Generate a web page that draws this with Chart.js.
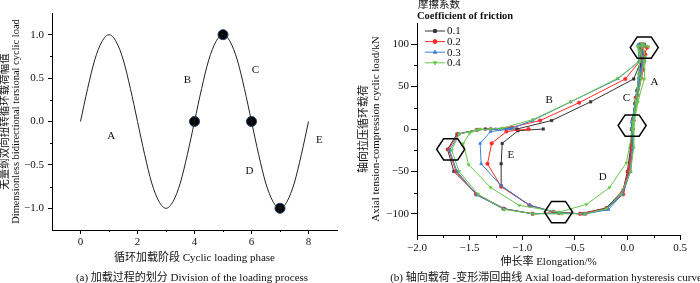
<!DOCTYPE html>
<html>
<head>
<meta charset="utf-8">
<script src="https://cdn.jsdelivr.net/npm/chart.js@4.4.0/dist/chart.umd.min.js"></script>
<style>
body{margin:0;background:#fff;width:700px;height:283px;position:relative;overflow:hidden;
  font-family:"Liberation Serif","Noto Sans CJK SC",serif;color:#111}
#cA{position:absolute;left:0;top:0}
#cB{position:absolute;left:350px;top:0}
.cap{position:absolute;top:270px;font-size:11px;white-space:nowrap;transform:translateX(-50%);line-height:14px}
</style>
</head>
<body>
<canvas id="cA" width="350" height="283"></canvas>
<canvas id="cB" width="350" height="283"></canvas>
<div class="cap" style="left:192px">(a) 加载过程的划分 Division of the loading process</div>
<div class="cap" style="left:546px">(b) 轴向载荷 -变形滞回曲线 Axial load-deformation hysteresis curve</div>
<script>
// ---- panel (a): loading phases ----
const phase = [0,0.25,0.5,0.75,1,1.25,1.5,1.75,2,2.25,2.5,2.75,3,3.25,3.5,3.75,4,
               4.25,4.5,4.75,5,5.25,5.5,5.75,6,6.25,6.5,6.75,7,7.25,7.5,7.75,8];
const load = [0,0.38,0.71,0.92,1,0.92,0.71,0.38,0,-0.38,-0.71,-0.92,-1,-0.92,-0.71,-0.38,0,
              0.38,0.71,0.92,1,0.92,0.71,0.38,0,-0.38,-0.71,-0.92,-1,-0.92,-0.71,-0.38,0];
const dotX = [4,5,6,7];
const dotY = [0,1,0,-1];
const phaseTicks = [0,2,4,6,8];
const phaseMinor = [1,3,5,7];
const ampTicks = [-1,-0.5,0,0.5,1];
const ampMinor = [-0.75,-0.25,0.25,0.75];
const lettersA = ['A','B','C','D','E'];
const lettersAX = [1.08,3.75,6.14,5.93,8.38];
const lettersAY = [-0.17,0.48,0.59,-0.57,-0.21];

// ---- panel (b): hysteresis curves ----
const frictions = ['0.1','0.2','0.3','0.4'];
const elong01 = [0.04,0.07,0.11,0.13,0.11,0.15,0.12,0.14,0.13,0.09,0.05,0.04,0.01,-0.05,-0.2,-0.42,-0.65,-0.9,-1.17,-1.43,-1.65,-1.71,-1.62,-1.43,-1.35,
  -1.05,-0.72,-0.35,0.06,0.13,0.12,0.16,0.13,0.12,0.08,0.05,0.04,0.03,0.0,-0.04,-0.2,-0.45,-0.7,-0.93,-1.2,-1.2,-1.19,-1.04,-0.8];
const load01 = [0,30,60,80,97,99,100,92,80,45,10,-20,-50,-77,-94,-100,-99,-100,-94,-77,-50,-24,-6,-1,0,
  0,10,32,59,80,98,100,90,70,37,12,0,-22,-50,-72,-93,-100,-98,-90,-67,-41,-17,-2,0];
const elong02 = [0.05,0.08,0.13,0.16,0.12,0.18,0.14,0.17,0.15,0.1,0.06,0.04,0.02,-0.04,-0.2,-0.4,-0.65,-0.9,-1.18,-1.44,-1.63,-1.7,-1.61,-1.43,-1.3,
  -1.1,-0.83,-0.46,-0.02,0.12,0.15,0.19,0.15,0.12,0.08,0.05,0.05,0.04,0.01,-0.05,-0.2,-0.45,-0.7,-0.93,-1.2,-1.33,-1.29,-1.15,-0.94];
const load02 = [0,30,60,80,98,97,100,88,70,40,10,-20,-50,-77,-94,-100,-99,-100,-94,-77,-50,-24,-6,-1,0,
  2,10,31,59,80,98,96,86,65,37,10,0,-22,-50,-75,-94,-100,-98,-90,-68,-41,-17,-3,0];
const elong03 = [0.05,0.08,0.12,0.15,0.1,0.16,0.12,0.15,0.13,0.09,0.05,0.05,0.03,-0.05,-0.2,-0.4,-0.65,-0.9,-1.18,-1.43,-1.62,-1.69,-1.6,-1.43,-1.25,
  -1.1,-0.9,-0.54,-0.09,0.11,0.1,0.15,0.12,0.11,0.08,0.04,0.04,0.05,0.03,-0.05,-0.18,-0.4,-0.65,-0.93,-1.2,-1.39,-1.4,-1.3,-1.11];
const load03 = [0,30,60,80,99,98,100,90,70,40,10,-20,-50,-77,-95,-100,-99,-100,-94,-78,-50,-25,-6,-1,0,
  1,10,32,59,80,98,100,88,65,33,8,0,-22,-50,-77,-95,-100,-99,-90,-67,-41,-17,-3,0];
const elong04 = [0.05,0.09,0.13,0.16,0.1,0.2,0.14,0.17,0.16,0.1,0.06,0.06,0.03,-0.06,-0.2,-0.4,-0.62,-0.89,-1.17,-1.42,-1.6,-1.67,-1.6,-1.43,-1.3,
  -1.19,-0.9,-0.54,-0.09,0.12,0.1,0.15,0.12,0.11,0.08,0.05,0.05,-0.01,-0.17,-0.39,-0.65,-1.03,-1.3,-1.51,-1.56,-1.5,-1.4];
const load04 = [0,30,60,80,97,97,100,85,59,32,5,-22,-50,-77,-94,-100,-100,-100,-95,-77,-50,-25,-6,-1,0,
  1,11,32,60,80,98,100,90,65,33,8,0,-40,-69,-89,-98,-90,-69,-42,-17,-5,0];
const elongTicks = [-2,-1.5,-1,-0.5,0,0.5];
const elongMinor = [-1.75,-1.25,-0.75,-0.25,0.25];
const axialTicks = [-100,-50,0,50,100];
const axialMinor = [-75,-25,25,75];
const hexX = [0.16,0.045,-1.68,-0.655];
const hexY = [96,4,-24,-98];
const lettersB = ['A','B','C','D','E'];
const lettersBX = [0.258,-0.744,-0.01,-0.235,-1.107];
const lettersBY = [55.6,34,37,-56.8,-31];

const serif = '"Liberation Serif","Noto Sans CJK SC",serif';
const tickFont = {family: serif, size: 11};
const titleFont = {family: serif, size: 11};
const minus = s => String(s).replace('-', '\u2212');

function minorTicks(chart, values, len) {
  const ctx = chart.ctx, xs = chart.scales.x, ys = chart.scales.y;
  ctx.save();
  ctx.strokeStyle = '#000';
  ctx.lineWidth = 1;
  ctx.beginPath();
  values.x.forEach(v => {
    const p = Math.round(xs.getPixelForValue(v)) + 0.5;
    ctx.moveTo(p, ys.bottom); ctx.lineTo(p, ys.bottom + len);
  });
  values.y.forEach(v => {
    const p = Math.round(ys.getPixelForValue(v)) + 0.5;
    ctx.moveTo(xs.left, p); ctx.lineTo(xs.left - len, p);
  });
  ctx.stroke();
  ctx.restore();
}

function drawLetters(chart, txt, lx, ly) {
  const ctx = chart.ctx, xs = chart.scales.x, ys = chart.scales.y;
  ctx.save();
  ctx.font = '11px ' + serif;
  ctx.fillStyle = '#111';
  ctx.textAlign = 'center';
  ctx.textBaseline = 'middle';
  txt.forEach((t, i) => ctx.fillText(t, xs.getPixelForValue(lx[i]), ys.getPixelForValue(ly[i])));
  ctx.restore();
}

const decorA = {
  id: 'decorA',
  afterDraw(chart) {
    minorTicks(chart, {x: phaseMinor, y: ampMinor}, 2);
    drawLetters(chart, lettersA, lettersAX, lettersAY);
  }
};

new Chart('cA', {
  type: 'line',
  data: {
    datasets: [{
      data: phase.map((v, i) => ({x: v, y: load[i]})),
      borderColor: '#222',
      borderWidth: 1,
      pointRadius: 0,
      cubicInterpolationMode: 'monotone'
    }, {
      data: dotX.map((v, i) => ({x: v, y: dotY[i]})),
      showLine: false,
      pointRadius: 5,
      pointBackgroundColor: '#000',
      pointBorderColor: '#1d3f70',
      pointBorderWidth: 1
    }]
  },
  options: {
    responsive: false,
    animation: false,
    layout: {padding: {left: 0, top: 13, right: 13, bottom: 18}},
    plugins: {legend: {display: false}, tooltip: {enabled: false}},
    scales: {
      x: {
        type: 'linear', min: -1, max: 9,
        afterBuildTicks: s => { s.ticks = phaseTicks.map(v => ({value: v})); },
        afterFit: s => { s.height = 35; },
        grid: {drawOnChartArea: false, tickLength: 4, color: '#000'},
        border: {color: '#000'},
        ticks: {font: tickFont, color: '#111', padding: 2, maxRotation: 0, autoSkip: false},
        title: {display: true, text: '循环加载阶段 Cyclic loading phase', font: titleFont, color: '#111', padding: 0}
      },
      y: {
        min: -1.25, max: 1.25,
        afterBuildTicks: s => { s.ticks = ampTicks.map(v => ({value: v})); },
        afterFit: s => { s.width = 52; },
        grid: {drawOnChartArea: false, tickLength: 4, color: '#000'},
        border: {color: '#000'},
        ticks: {font: tickFont, color: '#111', padding: 4, callback: v => minus(v.toFixed(1))},
        title: {display: true, text: ['无量纲双向扭转循环载荷幅值', 'Dimensionless bidirectional tersional cyclic load'],
                font: {family: serif, size: 10.5, lineHeight: 1.05}, color: '#111', padding: {top: 0, bottom: 0}}
      }
    }
  },
  plugins: [decorA]
});

// ---- panel (b) ----
const seriesX = [elong01, elong02, elong03, elong04];
const seriesY = [load01, load02, load03, load04];
const colors = ['#333333', '#ff2a2a', '#3b7fd3', '#66c74a'];
const markers = ['rect', 'circle', 'triangle', 'triangle'];
const markerRot = [0, 0, 0, 180];

const decorB = {
  id: 'decorB',
  afterDraw(chart) {
    const ctx = chart.ctx, xs = chart.scales.x, ys = chart.scales.y, area = chart.chartArea;
    minorTicks(chart, {x: elongMinor, y: axialMinor}, 3);
    drawLetters(chart, lettersB, lettersBX, lettersBY);
    // hexagons
    ctx.save();
    ctx.strokeStyle = '#000';
    ctx.lineWidth = 1.5;
    hexX.forEach((v, i) => {
      const cx = xs.getPixelForValue(v), cy = ys.getPixelForValue(hexY[i]), r = 14;
      ctx.beginPath();
      for (let k = 0; k < 6; k++) {
        const a = Math.PI / 3 * k;
        const px = cx + r * Math.cos(a), py = cy + r * 0.88 * Math.sin(a);
        k ? ctx.lineTo(px, py) : ctx.moveTo(px, py);
      }
      ctx.closePath();
      ctx.stroke();
    });
    // legend
    ctx.font = 'bold 10.5px ' + serif;
    ctx.fillStyle = '#111';
    ctx.textBaseline = 'middle';
    ctx.textAlign = 'center';
    ctx.font = '10.5px ' + serif;
    ctx.fillText('摩擦系数', area.left + 22, 5);
    ctx.font = 'bold 10.5px ' + serif;
    ctx.textAlign = 'left';
    ctx.fillText('Coefficient of friction', area.left, 16);
    ctx.font = '11px ' + serif;
    frictions.forEach((f, i) => {
      const y = 31 + i * 10.6, x0 = area.left + 8;
      ctx.strokeStyle = colors[i];
      ctx.lineWidth = 1;
      ctx.beginPath(); ctx.moveTo(x0, y); ctx.lineTo(x0 + 20, y); ctx.stroke();
      ctx.fillStyle = colors[i];
      Chart.helpers.drawPoint(ctx, {pointStyle: markers[i], radius: 2, rotation: markerRot[i], borderWidth: 1}, x0 + 10, y);
      ctx.fillStyle = '#111';
      ctx.fillText(f, x0 + 22, y + 0.5);
    });
    ctx.restore();
  }
};

new Chart('cB', {
  type: 'scatter',
  data: {
    datasets: frictions.map((f, i) => ({
      label: f,
      data: seriesX[i].map((v, k) => ({x: v, y: seriesY[i][k]})),
      showLine: true,
      borderColor: colors[i],
      backgroundColor: colors[i],
      borderWidth: 1,
      pointStyle: markers[i],
      rotation: markerRot[i],
      pointRadius: 1.8,
      pointBorderWidth: 0.5,
      order: 3 - i
    }))
  },
  options: {
    responsive: false,
    animation: false,
    layout: {padding: {left: 8, top: 23, right: 20, bottom: 14}},
    plugins: {legend: {display: false}, tooltip: {enabled: false}},
    scales: {
      x: {
        type: 'linear', min: -2, max: 0.5,
        afterBuildTicks: s => { s.ticks = elongTicks.map(v => ({value: v})); },
        afterFit: s => { s.height = 34; },
        grid: {drawOnChartArea: false, tickLength: 5, color: '#000'},
        border: {color: '#000'},
        ticks: {font: tickFont, color: '#111', padding: 2, maxRotation: 0, autoSkip: false, callback: v => minus(v.toFixed(1))},
        title: {display: true, text: '伸长率 Elongation/%', font: titleFont, color: '#111', padding: 0}
      },
      y: {
        min: -125, max: 125,
        afterBuildTicks: s => { s.ticks = axialTicks.map(v => ({value: v})); },
        afterFit: s => { s.width = 59; },
        grid: {drawOnChartArea: false, tickLength: 6, color: '#000'},
        border: {color: '#000'},
        ticks: {font: tickFont, color: '#111', padding: 2, callback: v => minus(v)},
        title: {display: true, text: ['轴向拉压循环载荷', 'Axial tension-compression cyclic load/kN'],
                font: {family: serif, size: 11, lineHeight: 1.1}, color: '#111', padding: {top: 0, bottom: 0}}
      }
    }
  },
  plugins: [decorB]
});
</script>
</body>
</html>
